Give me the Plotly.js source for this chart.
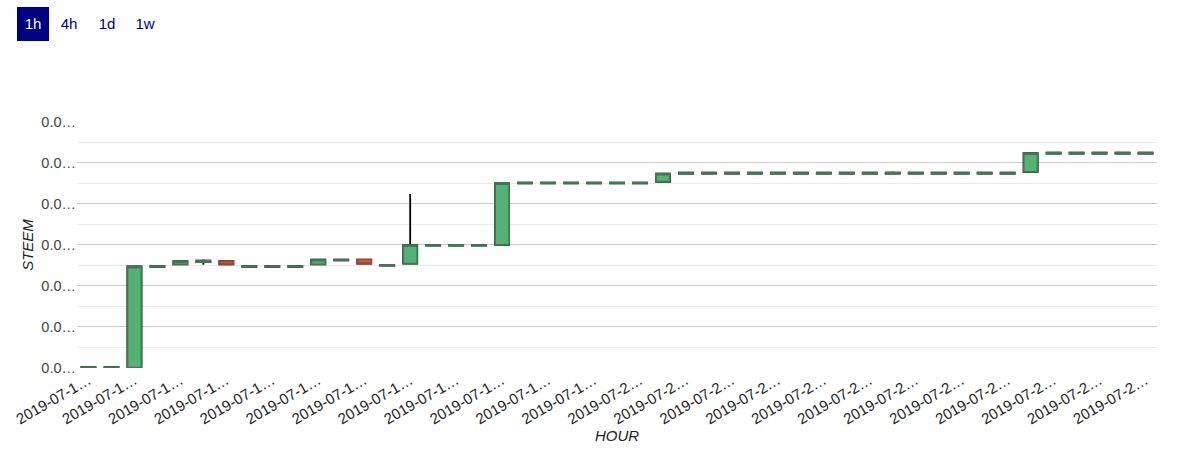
<!DOCTYPE html>
<html>
<head>
<meta charset="utf-8">
<script src="https://cdn.plot.ly/plotly-3.0.1.min.js"></script>
<style>
  html, body { margin: 0; padding: 0; background: #ffffff; }
  #wrap { position: relative; width: 1187px; height: 467px; overflow: hidden; }
  #chart { position: absolute; left: 0; top: 0; width: 1187px; height: 467px; }
  .btn { position: absolute; top: 7px; width: 32px; height: 34px; line-height: 34px; text-align: center;
         font-family: "Liberation Sans", Arial, sans-serif; font-size: 15px; color: #000080; z-index: 5; }
  .btn.active { background: #000080; color: #ffffff; }
</style>
</head>
<body>
<div id="wrap">
  <div id="chart"></div>
  <div class="btn active" style="left:17px;">1h</div>
  <div class="btn" style="left:53px;">4h</div>
  <div class="btn" style="left:91px;">1d</div>
  <div class="btn" style="left:129px;">1w</div>
</div>
<script>
// ---- data ----
const hours = [
  "2019-07-19 00:00","2019-07-19 01:00","2019-07-19 02:00","2019-07-19 03:00","2019-07-19 04:00",
  "2019-07-19 05:00","2019-07-19 06:00","2019-07-19 07:00","2019-07-19 08:00","2019-07-19 09:00",
  "2019-07-19 10:00","2019-07-19 11:00","2019-07-19 12:00","2019-07-19 13:00","2019-07-19 14:00",
  "2019-07-19 15:00","2019-07-19 16:00","2019-07-19 17:00","2019-07-19 18:00","2019-07-19 19:00",
  "2019-07-19 20:00","2019-07-19 21:00","2019-07-19 22:00","2019-07-19 23:00","2019-07-20 00:00",
  "2019-07-20 01:00","2019-07-20 02:00","2019-07-20 03:00","2019-07-20 04:00","2019-07-20 05:00",
  "2019-07-20 06:00","2019-07-20 07:00","2019-07-20 08:00","2019-07-20 09:00","2019-07-20 10:00",
  "2019-07-20 11:00","2019-07-20 12:00","2019-07-20 13:00","2019-07-20 14:00","2019-07-20 15:00",
  "2019-07-20 16:00","2019-07-20 17:00","2019-07-20 18:00","2019-07-20 19:00","2019-07-20 20:00",
  "2019-07-20 21:00","2019-07-20 22:00"
];
const openVals = [
  0.03000,0.03000,0.03000,0.03246,0.03252,0.03258,0.03260,0.03246,0.03246,0.03246,
  0.03252,0.03262,0.03264,0.03249,0.03254,0.03298,0.03298,0.03298,0.03300,0.03450,
  0.03450,0.03450,0.03450,0.03450,0.03450,0.03454,0.03474,0.03474,0.03474,0.03474,
  0.03474,0.03474,0.03474,0.03474,0.03474,0.03474,0.03474,0.03474,0.03474,0.03474,
  0.03474,0.03478,0.03523,0.03523,0.03523,0.03523,0.03523
];
const highVals = [
  0.03001,0.03001,0.03247,0.03248,0.03260,0.03264,0.03260,0.03248,0.03248,0.03248,
  0.03264,0.03264,0.03264,0.03251,0.03424,0.03300,0.03300,0.03300,0.03451,0.03452,
  0.03452,0.03452,0.03452,0.03452,0.03452,0.03474,0.03476,0.03476,0.03476,0.03476,
  0.03476,0.03476,0.03476,0.03476,0.03476,0.03479,0.03476,0.03476,0.03476,0.03476,
  0.03476,0.03524,0.03525,0.03525,0.03525,0.03525,0.03525
];
const lowVals = [
  0.03000,0.03000,0.03000,0.03246,0.03252,0.03251,0.03252,0.03246,0.03246,0.03246,
  0.03252,0.03262,0.03254,0.03249,0.03254,0.03298,0.03298,0.03298,0.03300,0.03450,
  0.03450,0.03450,0.03450,0.03450,0.03450,0.03454,0.03474,0.03474,0.03474,0.03474,
  0.03474,0.03474,0.03474,0.03474,0.03474,0.03474,0.03474,0.03474,0.03474,0.03474,
  0.03474,0.03478,0.03523,0.03523,0.03523,0.03523,0.03523
];
const closeVals = [
  0.03001,0.03001,0.03247,0.03248,0.03260,0.03261,0.03252,0.03248,0.03248,0.03248,
  0.03264,0.03264,0.03254,0.03251,0.03299,0.03300,0.03300,0.03300,0.03451,0.03452,
  0.03452,0.03452,0.03452,0.03452,0.03452,0.03474,0.03476,0.03476,0.03476,0.03476,
  0.03476,0.03476,0.03476,0.03476,0.03476,0.03476,0.03476,0.03476,0.03476,0.03476,
  0.03476,0.03524,0.03525,0.03525,0.03525,0.03525,0.03525
];
const yTickVals = [0.030, 0.031, 0.032, 0.033, 0.034, 0.035, 0.036];
const yTickText = ["0.0…","0.0…","0.0…","0.0…","0.0…","0.0…","0.0…"];
const yMinorVals = [0.0305, 0.0315, 0.0325, 0.0335, 0.0345, 0.0355];
const xTitle = "HOUR";
const yTitle = "STEEM";

// tick labels: every second hour, truncated as in the original
const xTickVals = hours.filter((h, i) => i % 2 === 0);
const xTickText = xTickVals.map(h => h.slice(0, 9) + "…");

// body-only bounds so the wick layer sits behind the boxes
const bodyHigh = openVals.map((o, i) => Math.max(o, closeVals[i]));
const bodyLow = openVals.map((o, i) => Math.min(o, closeVals[i]));

const FONT = 'Liberation Sans, Arial, sans-serif';

const wickTrace = {
  type: 'candlestick', x: hours,
  open: openVals, high: highVals, low: lowVals, close: closeVals,
  increasing: { line: { color: '#000000', width: 1.8 }, fillcolor: '#000000' },
  decreasing: { line: { color: '#000000', width: 1.8 }, fillcolor: '#000000' },
  whiskerwidth: 0, hoverinfo: 'skip', showlegend: false
};
const bodyTrace = {
  type: 'candlestick', x: hours,
  open: openVals, high: bodyHigh, low: bodyLow, close: closeVals,
  increasing: { line: { color: '#437656', width: 1.8 }, fillcolor: '#53b274' },
  decreasing: { line: { color: '#9c4836', width: 1.8 }, fillcolor: '#e0684f' },
  whiskerwidth: 0, showlegend: false
};

const layout = {
  width: 1187, height: 467,
  margin: { l: 77, r: 30, t: 122, b: 99, pad: 0 },
  paper_bgcolor: '#ffffff', plot_bgcolor: '#ffffff',
  showlegend: false,
  boxgap: 0.39, boxgroupgap: 0, boxmode: 'overlay',
  font: { family: FONT, size: 14, color: '#222222' },
  xaxis: {
    type: 'category',
    tickmode: 'array', tickvals: xTickVals, ticktext: xTickText,
    tickangle: -30, showgrid: false, zeroline: false, showline: false,
    ticks: '', ticklen: 0,
    tickfont: { family: FONT, size: 15, color: '#222222' },
    rangeslider: { visible: false },
    automargin: false,
    title: { text: xTitle, font: { family: FONT, size: 15, color: '#222222', style: 'italic' }, standoff: 4 }
  },
  yaxis: {
    range: [0.02999, 0.036],
    tickmode: 'array', tickvals: yTickVals, ticktext: yTickText,
    showgrid: true, gridcolor: '#cccccc', gridwidth: 1,
    zeroline: false, showline: false, ticks: '',
    minor: { tickmode: 'array', tickvals: yMinorVals, showgrid: true, gridcolor: '#ebebeb', gridwidth: 1, ticks: '' },
    tickfont: { family: FONT, size: 14.5, color: '#444444' },
    automargin: false,
    title: { text: yTitle, font: { family: FONT, size: 15, color: '#222222', style: 'italic' }, standoff: 4 }
  },
  hovermode: false
};

Plotly.newPlot('chart', [wickTrace, bodyTrace], layout, { displayModeBar: false, staticPlot: true });
</script>
</body>
</html>
